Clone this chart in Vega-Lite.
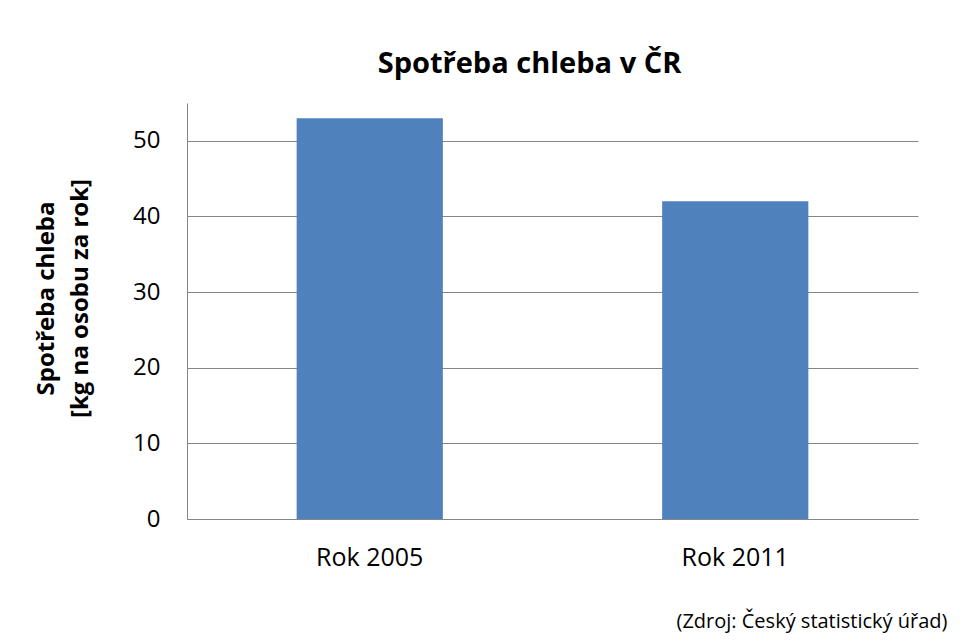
{
  "$schema": "https://vega.github.io/schema/vega-lite/v6.json",
  "autosize": "none",
  "width": 731,
  "height": 416,
  "padding": {"left": 187, "top": 103, "right": 55, "bottom": 123},
  "background": "white",
  "title": {
    "text": "Spotřeba chleba v ČR",
    "font": "Open Sans",
    "fontSize": 29,
    "fontWeight": "bold",
    "color": "black",
    "anchor": "middle",
    "baseline": "alphabetic",
    "offset": 1,
    "dx": -23
  },
  "data": {
    "values": [
      {"rok": "Rok 2005", "spotreba": 53},
      {"rok": "Rok 2011", "spotreba": 42}
    ]
  },
  "mark": {"type": "bar", "color": "#4F81BD"},
  "encoding": {
    "x": {
      "field": "rok",
      "type": "nominal",
      "sort": null,
      "scale": {"paddingInner": 0.6, "paddingOuter": 0.3},
      "axis": {
        "title": "(Zdroj: Český statistický úřad)",
        "titleFont": "Open Sans",
        "titleFontSize": 20,
        "titleFontWeight": "normal",
        "titleColor": "black",
        "titleAnchor": "end",
        "titleAlign": "right",
        "titleBaseline": "alphabetic",
        "titleX": 760,
        "titleY": 108,
        "labelAngle": 0,
        "labelFontSize": 25,
        "labelPadding": 26
      }
    },
    "y": {
      "field": "spotreba",
      "type": "quantitative",
      "scale": {"domain": [0, 55], "nice": false},
      "axis": {
        "title": ["Spotřeba chleba", "[kg na osobu za rok]"],
        "titleFont": "Open Sans",
        "titleFontSize": 24,
        "titleFontWeight": "bold",
        "titleColor": "black",
        "titleLineHeight": 34,
        "titleY": 195,
        "titlePadding": 40,
        "values": [0, 10, 20, 30, 40, 50],
        "labelPadding": 27,
        "grid": true
      }
    }
  },
  "config": {
    "view": {"stroke": null},
    "axis": {
      "ticks": false,
      "tickSize": 0,
      "labelFont": "Open Sans",
      "labelFontSize": 24,
      "labelColor": "black",
      "domainColor": "#868686",
      "domainWidth": 1,
      "gridColor": "#868686",
      "gridWidth": 1
    }
  }
}
